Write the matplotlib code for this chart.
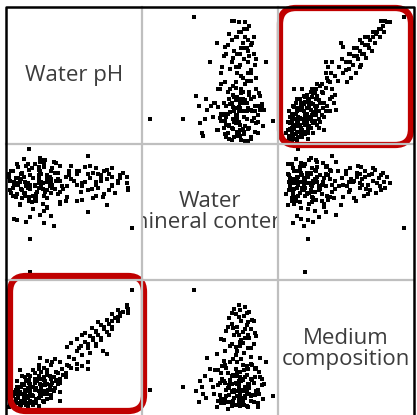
import matplotlib
matplotlib.use("Agg")
import matplotlib.pyplot as plt
from matplotlib.lines import Line2D
from matplotlib.patches import FancyBboxPatch

plt.rcParams["font.family"] = ["Open Sans", "DejaVu Sans"]

labels = ["Water pH", "Water\nmineral content", "Medium\ncomposition"]

# one row per sample
water_ph = [
    6.12, 6.24, 6.08, 6.20, 6.32, 6.40, 6.18, 6.28, 6.44, 6.36,
    6.52, 6.28, 6.56, 6.40, 6.48, 6.60, 6.72, 6.44, 6.66, 6.52,
    6.80, 6.64, 6.34, 6.76, 6.88, 6.60, 6.84, 6.96, 6.52, 6.90,
    7.04, 6.80, 7.12, 7.00, 6.92, 6.50, 6.06, 6.16, 6.22, 6.30,
    6.38, 6.14, 6.26, 6.48, 6.38, 6.24, 6.54, 6.30, 6.62, 6.44,
    6.22, 6.54, 6.36, 6.68, 6.58, 6.76, 6.42, 6.70, 6.48, 6.60,
    6.16, 6.04, 6.12, 6.34, 6.36, 6.26, 6.18, 6.40, 6.50, 6.20,
    6.58, 6.42, 6.32, 6.64, 6.26, 6.50, 6.42, 6.74, 6.56, 6.66,
    6.12, 6.56, 6.70, 6.66, 6.16, 6.30, 6.36, 6.74, 6.82, 6.66,
    6.48, 6.06, 6.54, 6.66, 6.10, 6.14, 6.24, 6.28, 6.42, 7.20,
    7.04, 7.20, 7.10, 7.32, 7.16, 7.28, 7.40, 7.24, 7.36, 7.48,
    7.32, 7.44, 7.56, 7.40, 7.52, 7.64, 7.48, 7.60, 7.68, 7.56,
    7.72, 7.64, 7.78, 7.78, 7.04, 7.16, 7.26, 7.36, 6.96, 6.90,
    7.48, 7.42, 6.50, 7.80, 7.12,
    7.86, 6.36, 6.36, 6.80, 7.20, 6.34,
    6.24, 6.40, 6.56, 6.48, 6.68, 6.88, 6.80, 6.76, 6.68, 6.80,
    6.16, 6.08, 6.04, 6.32, 6.48, 6.60, 6.92, 6.60, 6.46, 6.58,
    6.18, 6.10, 6.60, 6.22, 6.32, 6.10, 6.28, 6.52, 6.34, 6.56,
    7.12, 7.24, 7.08, 7.20, 7.40, 7.28, 7.32, 7.56, 7.44, 7.56,
    7.64, 7.68, 7.80, 7.32, 7.52, 6.20, 7.04, 6.72, 6.44, 6.60,
]
mineral = [
    72, 60, 80, 55, 68, 75, 83, 64, 58, 77,
    70, 62, 86, 52, 74, 66, 79, 60, 71, 88,
    57, 69, 81, 63, 76, 54, 67, 84, 72, 61,
    78, 65, 59, 73, 80, 48, 66, 85, 74, 69,
    82, 61, 76, 71, 57, 79, 67, 84, 73, 63,
    78, 56, 70, 82, 65, 74, 59, 87, 68, 77,
    63, 78, 70, 58, 67, 89, 75, 62, 80, 72,
    66, 85, 71, 76, 64, 90, 69, 73, 51, 80,
    45, 42, 40, 47, 44, 43, 46, 86, 69, 74,
    77, 73, 71, 64, 68, 75, 78, 72, 70, 91,
    70, 78, 65, 82, 72, 60, 76, 84, 68, 74,
    62, 80, 70, 77, 66, 73, 81, 64, 75, 69,
    79, 72, 76, 71, 58, 83, 67, 78, 74, 69,
    55, 61, 87, 66, 71,
    38, 6, 30, 56, 50, 96,
    66, 75, 62, 81, 70, 58, 73, 79, 68, 84,
    71, 64, 76, 69, 83, 60, 77, 72, 65, 88,
    70, 80, 74, 67, 85, 62, 72, 78, 61, 83,
    69, 75, 80, 66, 73, 79, 70, 76, 63, 82,
    71, 77, 68, 72, 78, 56, 80, 67, 59, 53,
]
medium = [
    8, 10, 12, 7, 14, 9, 16, 11, 13, 18,
    15, 20, 17, 22, 19, 24, 21, 26, 23, 28,
    25, 30, 27, 32, 29, 34, 31, 36, 33, 38,
    35, 40, 37, 42, 44, 43, 8, 10, 12, 9,
    11, 13, 15, 14, 16, 17, 18, 19, 20, 21,
    22, 23, 24, 25, 26, 27, 28, 29, 30, 31,
    6, 7, 9, 10, 12, 13, 14, 15, 16, 18,
    19, 20, 21, 22, 23, 24, 25, 26, 27, 28,
    17, 11, 19, 14, 22, 26, 30, 33, 35, 38,
    8, 10, 12, 16, 18, 20, 24, 29, 32, 40,
    48, 50, 52, 53, 55, 56, 58, 59, 60, 62,
    63, 64, 66, 67, 68, 70, 71, 72, 74, 75,
    77, 78, 80, 82, 57, 61, 65, 69, 54, 51,
    46, 48, 43, 76, 60,
    93, 20, 22, 12, 35, 15,
    30, 34, 36, 38, 40, 32, 28, 24, 20, 18,
    26, 22, 14, 31, 35, 41, 37, 33, 27, 23,
    19, 15, 13, 9, 7, 11, 16, 21, 25, 29,
    45, 47, 50, 53, 56, 58, 62, 64, 66, 70,
    73, 76, 79, 52, 60, 34, 39, 42, 10, 17,
]
variables = [water_ph, mineral, medium]
limits = [(6.0, 8.0), (0, 100), (0, 100)]
highlight = [(0, 2), (2, 0)]

W, H = 417, 415
fig = plt.figure(figsize=(W / 100, H / 100), dpi=100)

# cell edges in pixels (from the top-left corner)
xs = [6, 142, 278, 414]
ys = [7, 144, 280, 417]


def fx(px):
    return px / W


def fy(py):
    return 1 - py / H


for r in range(3):
    for c in range(3):
        ax = fig.add_axes([fx(xs[c]), fy(ys[r + 1]), fx(xs[c + 1] - xs[c]),
                           (ys[r + 1] - ys[r]) / H])
        ax.set_xlim(*limits[c])
        ax.set_ylim(*limits[r])
        ax.set_xticks([])
        ax.set_yticks([])
        for s in ax.spines.values():
            s.set_visible(False)
        ax.patch.set_alpha(0)
        if r == c:
            ax.text(0.5, 0.5, labels[r], transform=ax.transAxes, ha="center",
                    va="center", fontsize=16, color="#3c3c3c", linespacing=1.0,
                    clip_on=True)
        else:
            ax.scatter(variables[c], variables[r], s=7.5, marker="s", c="black",
                       linewidths=0)

# grid lines
for x in xs[1:3]:
    fig.add_artist(Line2D([fx(x)] * 2, [fy(ys[0]), fy(ys[-1])], color="#bfbfbf",
                          lw=1.6, transform=fig.transFigure))
for y in ys[1:3]:
    fig.add_artist(Line2D([fx(xs[0]), fx(xs[-1])], [fy(y)] * 2, color="#bfbfbf",
                          lw=1.6, transform=fig.transFigure))
# outer border
fig.add_artist(Line2D([fx(xs[0]), fx(xs[0]), fx(xs[-1]), fx(xs[-1])],
                      [fy(ys[-1]), fy(ys[0]), fy(ys[0]), fy(ys[-1])],
                      color="black", lw=1.8, transform=fig.transFigure))

# red rounded frames around the highlighted cells
boxes = {(0, 2): (280, 8, 411, 145), (2, 0): (10, 276, 144, 411)}
for key in highlight:
    x0, y0, x1, y1 = boxes[key]
    fig.add_artist(FancyBboxPatch((x0 / 100, (H - y1) / 100), (x1 - x0) / 100,
                                  (y1 - y0) / 100,
                                  boxstyle="round,pad=0,rounding_size=0.16",
                                  fill=False, ec="#c00000", lw=4.5,
                                  transform=fig.dpi_scale_trans))

fig.savefig("out.png", dpi=100)
